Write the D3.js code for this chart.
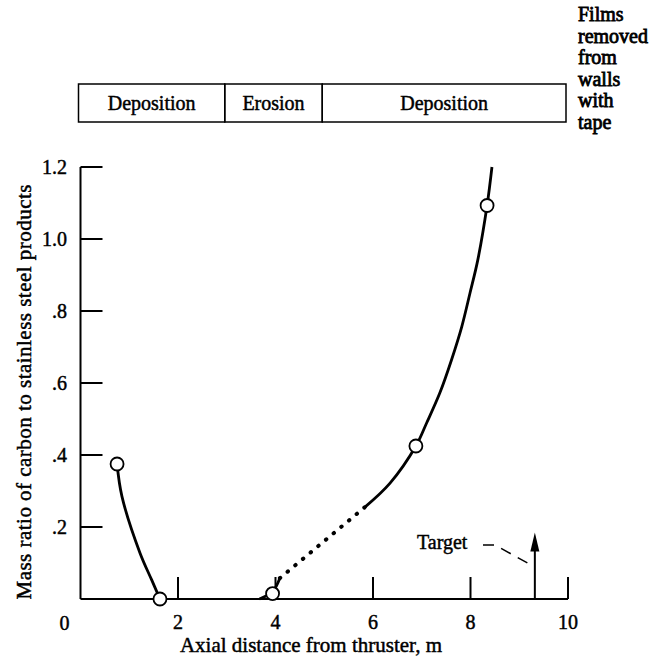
<!DOCTYPE html>
<html>
<head>
<meta charset="utf-8">
<script src="https://cdn.jsdelivr.net/npm/d3@7"></script>
<style>
  body { margin: 0; background: #fff; }
  svg text { font-family: "Liberation Serif", "Times New Roman", serif; fill: #000; stroke: #000; stroke-width: 0.45px; }
</style>
</head>
<body>
<svg id="chart" width="656" height="665"></svg>
<script>
// values
var xTicks = [2, 4, 6, 8, 10];
var yTicks = [0.2, 0.4, 0.6, 0.8, 1.0, 1.2];
var yTickLabels = [".2", ".4", ".6", ".8", "1.0", "1.2"];

var pointX = [0.75, 1.63, 3.94, 6.88, 8.34];
var pointY = [0.375, 0, 0.015, 0.425, 1.093];

var leftCurve = [[0.75, 0.375], [0.85, 0.285], [1.22, 0.128], [1.46, 0.053], [1.63, 0]];
var midCurve = [[3.67, 0], [3.94, 0.02], [4.09, 0.058]];
var dottedCurve = [[4.09, 0.058], [5.84, 0.256]];
var rightCurve = [[5.84, 0.256], [6.35, 0.322], [6.88, 0.425], [7.10, 0.489], [7.37, 0.572],
                  [7.61, 0.664], [7.82, 0.756], [7.99, 0.85], [8.15, 0.942], [8.34, 1.093], [8.44, 1.2]];

var regionNames = ["Deposition", "Erosion", "Deposition"];
var regionBounds = [0, 3, 5, 10];

var noteLines = ["Films", "removed", "from", "walls", "with", "tape"];
var targetX = 9.32;
var targetTop = 0.185;

var svg = d3.select("#chart");
var x = d3.scaleLinear().domain([0, 10]).range([80.5, 568]);
var y = d3.scaleLinear().domain([0, 1.2]).range([599, 167]);

// axes
var g = svg.append('g');
g.append('line').attr('x1', x(0)).attr('x2', x(10)).attr('y1', y(0)).attr('y2', y(0))
    .attr('stroke', '#000').attr('stroke-width', 2);
g.append('line').attr('x1', x(0)).attr('x2', x(0)).attr('y1', y(0)).attr('y2', y(1.2))
    .attr('stroke', '#000').attr('stroke-width', 2);

g.selectAll('line.xt').data(xTicks).enter().append('line').attr('class', 'xt')
    .attr('x1', function (d) { return x(d); }).attr('x2', function (d) { return x(d); })
    .attr('y1', y(0)).attr('y2', y(0) - 22)
    .attr('stroke', '#000').attr('stroke-width', 2);
g.selectAll('text.xl').data(xTicks).enter().append('text').attr('class', 'xl')
    .attr('x', function (d) { return x(d); }).attr('y', 629)
    .attr('text-anchor', 'middle').attr('font-size', 20)
    .text(function (d) { return d; });
g.append('text').attr('x', x(0) - 16).attr('y', 630).attr('text-anchor', 'middle')
    .attr('font-size', 20).text('0');

g.selectAll('line.yt').data(yTicks).enter().append('line').attr('class', 'yt')
    .attr('x1', x(0)).attr('x2', x(0) + 22)
    .attr('y1', function (d) { return y(d); }).attr('y2', function (d) { return y(d); })
    .attr('stroke', '#000').attr('stroke-width', 2);
g.selectAll('text.yl').data(yTicks).enter().append('text').attr('class', 'yl')
    .attr('x', 67).attr('y', function (d) { return y(d) + 7; })
    .attr('text-anchor', 'end').attr('font-size', 20)
    .text(function (d, i) { return yTickLabels[i]; });

// axis titles
svg.append('text').attr('x', 311).attr('y', 652).attr('text-anchor', 'middle')
    .attr('font-size', 21).text('Axial distance from thruster, m');
svg.append('text').attr('transform', 'translate(31,392) rotate(-90)')
    .attr('text-anchor', 'middle').attr('font-size', 21)
    .attr('textLength', 415).attr('lengthAdjust', 'spacing')
    .text('Mass ratio of carbon to stainless steel products');

// region boxes on top
var boxes = svg.append('g');
boxes.selectAll('rect').data(regionNames).enter().append('rect')
    .attr('x', function (d, i) { return x(regionBounds[i]) - 2; })
    .attr('width', function (d, i) { return x(regionBounds[i + 1]) - x(regionBounds[i]); })
    .attr('y', 84).attr('height', 38)
    .attr('fill', 'none').attr('stroke', '#000').attr('stroke-width', 1.5);
boxes.selectAll('text').data(regionNames).enter().append('text')
    .attr('x', function (d, i) { return (x(regionBounds[i]) + x(regionBounds[i + 1])) / 2 - 2; })
    .attr('y', 110).attr('text-anchor', 'middle').attr('font-size', 20)
    .text(function (d) { return d; });

// note on the right
svg.append('g').selectAll('text').data(noteLines).enter().append('text')
    .attr('x', 578).attr('y', function (d, i) { return 21 + i * 21.5; })
    .attr('font-size', 20).style('stroke-width', '0.8px')
    .text(function (d) { return d; });

// curves
var line = d3.line().x(function (d) { return x(d[0]); }).y(function (d) { return y(d[1]); })
    .curve(d3.curveCatmullRom);
var curves = svg.append('g').attr('fill', 'none').attr('stroke', '#000');
[leftCurve, midCurve, rightCurve].forEach(function (c) {
    curves.append('path').datum(c).attr('d', line).attr('stroke-width', 2.8);
});
curves.append('path').datum(dottedCurve).attr('d', line).attr('stroke-width', 4)
    .attr('stroke-linecap', 'round').attr('stroke-dasharray', '0.5,9.5');

// points
svg.append('g').selectAll('circle').data(pointX).enter().append('circle')
    .attr('cx', function (d) { return x(d); })
    .attr('cy', function (d, i) { return y(pointY[i]); })
    .attr('r', 6.5).attr('fill', '#fff').attr('stroke', '#000').attr('stroke-width', 1.8);

// target arrow and label
var tg = svg.append('g');
tg.append('line').attr('x1', x(targetX)).attr('x2', x(targetX))
    .attr('y1', y(0)).attr('y2', y(targetTop) + 15)
    .attr('stroke', '#000').attr('stroke-width', 2);
tg.append('path')
    .attr('d', 'M' + x(targetX) + ',' + y(targetTop) + 'l-4.5,19h9z').attr('fill', '#000');
tg.append('text').attr('x', 417).attr('y', 549).attr('font-size', 20).text('Target');
tg.append('path')
    .attr('d', 'M483,545L495,545L' + (x(targetX) - 2) + ',566')
    .attr('fill', 'none').attr('stroke', '#000').attr('stroke-width', 1.5)
    .attr('stroke-dasharray', '11,8');
</script>
</body>
</html>
